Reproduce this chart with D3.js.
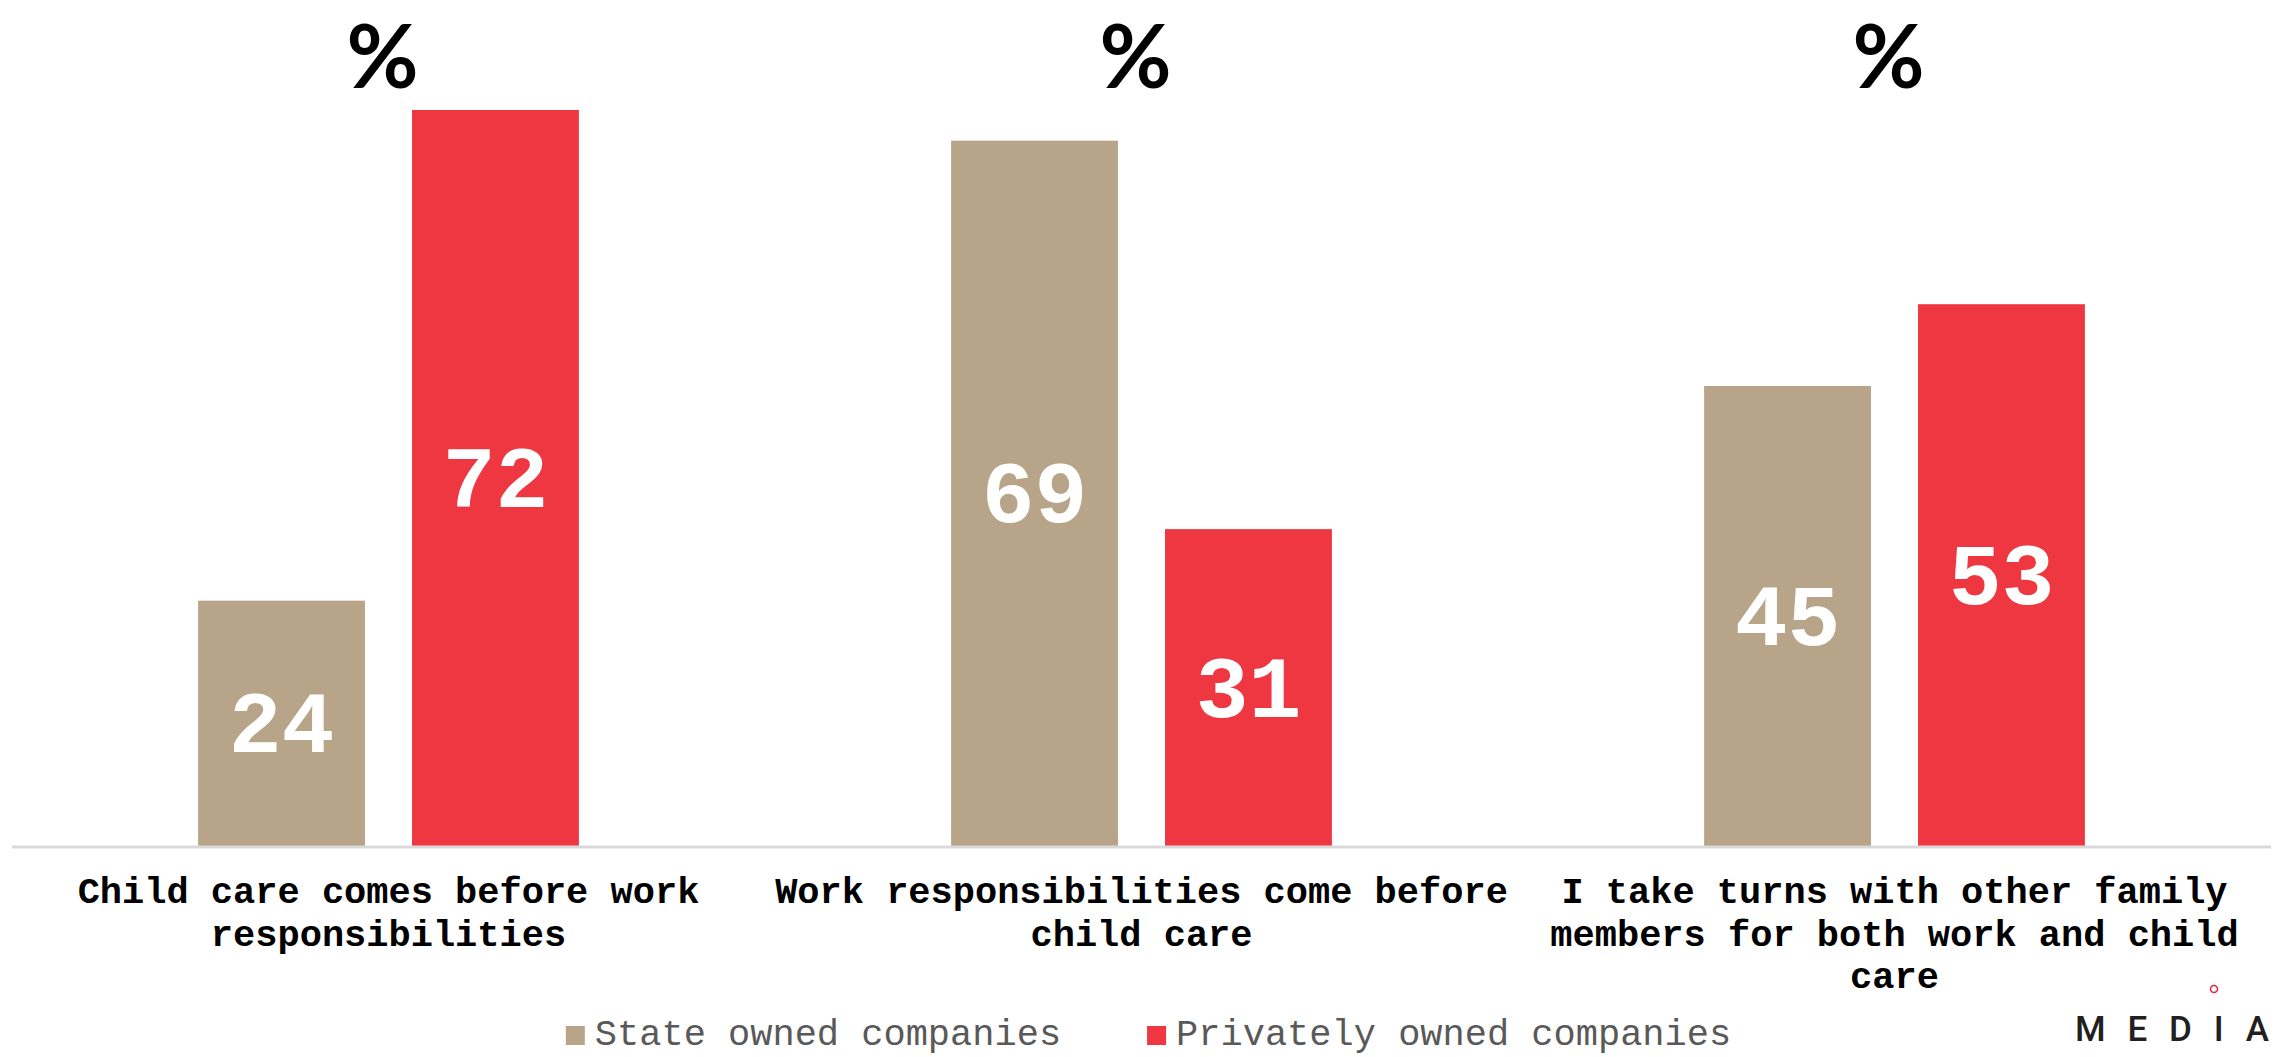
<!DOCTYPE html>
<html>
<head>
<meta charset="utf-8">
<script src="https://cdn.jsdelivr.net/npm/d3@7"></script>
<style>
  html, body { margin: 0; padding: 0; background: #fff; }
  svg { display: block; }
</style>
</head>
<body>
<svg id="chart"></svg>
<script>
// data
const categories = [
  "Child care comes before work responsibilities",
  "Work responsibilities come before child care",
  "I take turns with other family members for both work and child care"
];
const seriesNames = ["State owned companies", "Privately owned companies"];
const stateValues = [24, 69, 45];
const privateValues = [72, 31, 53];
const seriesColors = ["#b8a488", "#ef3741"];

const width = 2278;
const height = 1057;
const mono = "'Courier New', 'Liberation Mono', monospace";

const svg = d3.select("#chart")
  .attr("width", width)
  .attr("height", height);

const rows = categories.map((c, i) => ({
  category: c,
  values: [
    {key: seriesNames[0], value: stateValues[i]},
    {key: seriesNames[1], value: privateValues[i]}
  ]
}));

const x0 = d3.scaleBand()
  .domain(categories)
  .range([12, 2271])
  .paddingInner(0)
  .paddingOuter(0);

const x1 = d3.scaleBand()
  .domain(seriesNames)
  .range([0, x0.bandwidth()])
  .paddingInner(0.22)
  .paddingOuter(0.87);

const y = d3.scaleLinear()
  .domain([0, 72])
  .range([846, 110]);

const color = d3.scaleOrdinal().domain(seriesNames).range(seriesColors);

// percent signs above each group
svg.append("g")
  .selectAll("text")
  .data(categories)
  .join("text")
  .attr("x", d => x0(d) + x0.bandwidth() / 2 - 6)
  .attr("y", 88)
  .attr("text-anchor", "middle")
  .attr("font-family", "Lato, 'Noto Sans', sans-serif")
  .attr("font-weight", 700)
  .attr("font-size", 88)
  .attr("fill", "#000")
  .text("%");

const groups = svg.append("g")
  .selectAll("g")
  .data(rows)
  .join("g")
  .attr("transform", d => `translate(${x0(d.category)},0)`);

groups.selectAll("rect")
  .data(d => d.values)
  .join("rect")
  .attr("x", d => x1(d.key))
  .attr("y", d => y(d.value))
  .attr("width", x1.bandwidth())
  .attr("height", d => y(0) - y(d.value))
  .attr("fill", d => color(d.key));

groups.selectAll("text.value")
  .data(d => d.values)
  .join("text")
  .attr("class", "value")
  .attr("x", d => x1(d.key) + x1.bandwidth() / 2)
  .attr("y", d => (y(d.value) + y(0)) / 2 + 29)
  .attr("text-anchor", "middle")
  .attr("font-family", mono)
  .attr("font-weight", "bold")
  .attr("font-size", 88)
  .attr("fill", "#fff")
  .text(d => d.value);

// baseline
svg.append("line")
  .attr("x1", 12)
  .attr("x2", 2271)
  .attr("y1", y(0) + 1)
  .attr("y2", y(0) + 1)
  .attr("stroke", "#d9d9d9")
  .attr("stroke-width", 3);

// category labels, wrapped to the band width
const labels = svg.append("g")
  .selectAll("text")
  .data(categories)
  .join("text")
  .attr("x", d => x0(d) + x0.bandwidth() / 2)
  .attr("y", 903)
  .attr("text-anchor", "middle")
  .attr("font-family", mono)
  .attr("font-weight", "bold")
  .attr("font-size", 37)
  .attr("fill", "#000")
  .text(d => d);

labels.call(wrap, x0.bandwidth() - 6, 42.5);

function wrap(texts, maxWidth, lineHeight) {
  texts.each(function() {
    const text = d3.select(this);
    const words = text.text().split(/\s+/);
    const xPos = text.attr("x");
    text.text(null);
    let line = [];
    let tspan = text.append("tspan").attr("x", xPos).attr("dy", 0);
    words.forEach(w => {
      line.push(w);
      tspan.text(line.join(" "));
      if (tspan.node().getComputedTextLength() > maxWidth && line.length > 1) {
        line.pop();
        tspan.text(line.join(" "));
        line = [w];
        tspan = text.append("tspan").attr("x", xPos).attr("dy", lineHeight).text(w);
      }
    });
  });
}

// legend
const legend = svg.append("g");
const items = legend.selectAll("g")
  .data(seriesNames)
  .join("g");

items.append("rect")
  .attr("y", 1026)
  .attr("width", 19)
  .attr("height", 19)
  .attr("fill", d => color(d));

items.append("text")
  .attr("x", 29)
  .attr("y", 1045)
  .attr("font-family", mono)
  .attr("font-size", 37)
  .attr("fill", "#595959")
  .text(d => d);

let offset = 0;
const itemGap = 86;
const widths = [];
items.each(function() {
  widths.push(this.getBBox().width);
});
const total = d3.sum(widths) + itemGap * (widths.length - 1);
const startX = (12 + 2271) / 2 - total / 2 + 7;
items.attr("transform", (d, i) => {
  const t = `translate(${startX + offset},0)`;
  offset += widths[i] + itemGap;
  return t;
});

// logo
const logo = svg.append("g");
logo.append("circle")
  .attr("cx", 2214)
  .attr("cy", 989)
  .attr("r", 3.5)
  .attr("fill", "none")
  .attr("stroke", "#e8264a")
  .attr("stroke-width", 1.6);
logo.append("text")
  .attr("x", 2075)
  .attr("y", 1041)
  .attr("font-family", "Roboto, 'DejaVu Sans', sans-serif")
  .attr("font-weight", 500)
  .attr("font-size", 35)
  .attr("fill", "#231f20")
  .attr("textLength", 194)
  .attr("lengthAdjust", "spacing")
  .text("MEDIA");
</script>
</body>
</html>
